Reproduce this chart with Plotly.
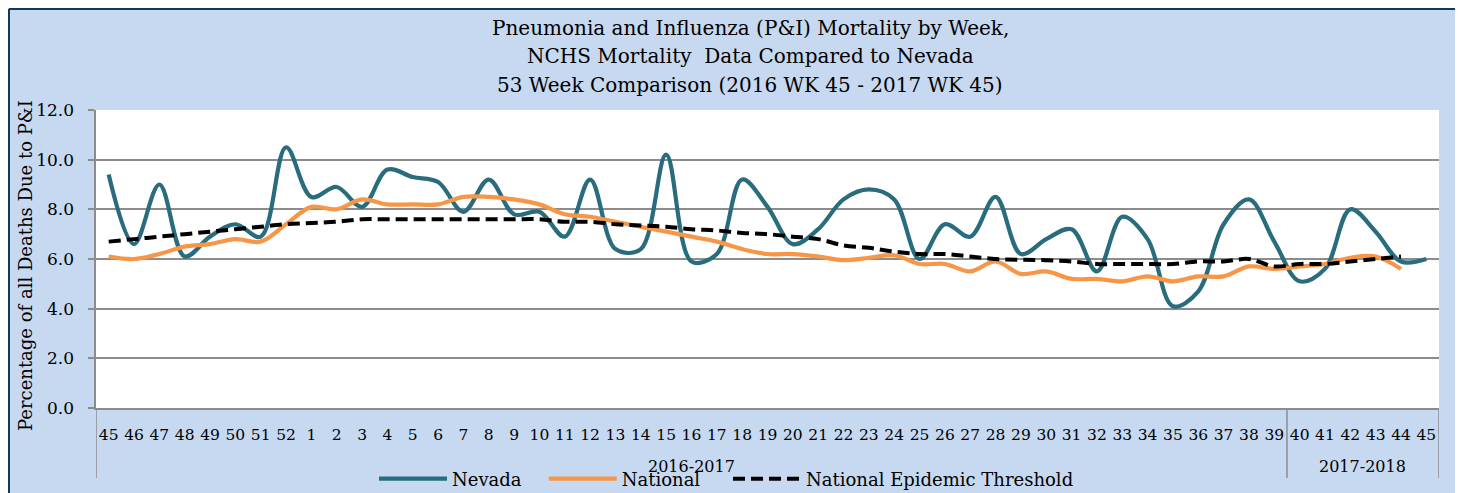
import plotly.graph_objects as go

# ---------------- data ----------------
weeks = ["45", "46", "47", "48", "49", "50", "51", "52",
         "1", "2", "3", "4", "5", "6", "7", "8", "9", "10",
         "11", "12", "13", "14", "15", "16", "17", "18", "19", "20",
         "21", "22", "23", "24", "25", "26", "27", "28", "29", "30",
         "31", "32", "33", "34", "35", "36", "37", "38", "39",
         "40", "41", "42", "43", "44", "45"]
seasons = ["2016-2017"] * 47 + ["2017-2018"] * 6

nevada = [9.4, 6.6, 9.0, 6.1, 6.9, 7.4, 6.9, 10.5,
          8.5, 8.9, 8.1, 9.6, 9.3, 9.1, 7.9, 9.2, 7.8, 7.9,
          6.9, 9.2, 6.4, 6.4, 10.2, 5.9, 6.2, 9.2, 8.1, 6.6,
          7.2, 8.4, 8.8, 8.4, 6.0, 7.4, 6.9, 8.5, 6.2, 6.8,
          7.2, 5.5, 7.7, 6.8, 4.1, 4.7, 7.4, 8.4, 6.7,
          5.1, 5.6, 8.0, 7.1, 5.9, 6.0]

national = [6.1, 6.0, 6.2, 6.5, 6.6, 6.8, 6.7, 7.4,
            8.1, 8.0, 8.4, 8.2, 8.2, 8.2, 8.5, 8.5, 8.4, 8.2,
            7.8, 7.7, 7.5, 7.3, 7.1, 6.9, 6.7, 6.4, 6.2, 6.2,
            6.1, 5.95, 6.05, 6.15, 5.8, 5.8, 5.5, 5.9, 5.4, 5.5,
            5.2, 5.2, 5.1, 5.3, 5.1, 5.3, 5.3, 5.7, 5.6,
            5.7, 5.8, 6.05, 6.1, 5.6, None]

threshold = [6.7, 6.8, 6.9, 7.0, 7.1, 7.2, 7.3, 7.4,
             7.45, 7.5, 7.6, 7.6, 7.6, 7.6, 7.6, 7.6, 7.6, 7.6,
             7.5, 7.5, 7.4, 7.35, 7.3, 7.2, 7.15, 7.05, 7.0, 6.9,
             6.8, 6.55, 6.45, 6.3, 6.2, 6.2, 6.1, 6.0, 5.97, 5.95,
             5.9, 5.8, 5.8, 5.8, 5.8, 5.9, 5.9, 6.0, 5.7,
             5.8, 5.8, 5.9, 6.0, 6.1, None]

series_names = ["Nevada", "National", "National Epidemic Threshold"]

title_lines = ["Pneumonia and Influenza (P&I) Mortality by Week,",
               "NCHS Mortality  Data Compared to Nevada",
               "53 Week Comparison (2016 WK 45 - 2017 WK 45)"]
y_title = "Percentage of all Deaths Due to P&I"

# ---------------- layout geometry ----------------
OFF = 8                      # page body margin in the browser
W, H = 1463 - OFF, 493 - OFF
L, T = 96 - OFF, 110 - OFF
R, B = W - (1439 - OFF), H - (408 - OFF)
PW, PH = W - L - R, H - T - B

def fx(px):  # page pixel x -> paper
    return (px - OFF - L) / PW

def fy(py):  # page pixel y -> paper
    return (H - B - (py - OFF)) / PH

FONT = "DejaVu Serif"
BG = "#C6D9F1"
GRID = "#8C8C8C"
NAVY = "#17365D"
NB = "\u00a0"

idx = list(range(len(weeks)))  # category positions on the axis

fig = go.Figure()
fig.add_trace(go.Scatter(x=idx, y=nevada, name=series_names[0] + NB * 3, mode="lines",
                         line=dict(color="#286C7E", width=4.2, shape="spline")))
fig.add_trace(go.Scatter(x=idx, y=national, name=series_names[1] + NB * 4, mode="lines",
                         line=dict(color="#F79646", width=4.2, shape="spline")))
fig.add_trace(go.Scatter(x=idx, y=threshold, name=series_names[2], mode="lines",
                         line=dict(color="black", width=4, dash="12px,6px", shape="spline")))

shapes = []
# white strip on the right + frame
shapes.append(dict(type="rect", xref="paper", yref="paper", x0=fx(1460), x1=fx(1470),
                   y0=fy(0), y1=fy(500), fillcolor="white", line=dict(width=0), layer="above"))
for (x0, y0, x1, y1) in [(9, 9, 9, 500), (9, 9, 1459, 9), (1459, 9, 1459, 500)]:
    shapes.append(dict(type="line", xref="paper", yref="paper", x0=fx(x0), x1=fx(x1),
                       y0=fy(y0), y1=fy(y1), line=dict(color=NAVY, width=2), layer="above"))

# season group dividers and labels (from the seasons list)
annotations = []
groups = []
for i, s in enumerate(seasons):
    if not groups or groups[-1][0] != s:
        groups.append([s, i, i])
    else:
        groups[-1][2] = i
bounds = [groups[0][1] - 0.5] + [g[2] + 0.5 for g in groups]
for b in bounds:
    shapes.append(dict(type="line", xref="x", yref="paper", x0=b, x1=b, y0=0, y1=fy(478),
                       line=dict(color=GRID, width=1.5), layer="above"))
for s, i0, i1 in groups:
    annotations.append(dict(text=s, xref="x", yref="paper", x=(i0 + i1) / 2, y=fy(467),
                            xanchor="center", yanchor="middle", showarrow=False,
                            font=dict(family=FONT, size=16, color="black")))

for txt, py in zip(title_lines, [28, 56.5, 85]):
    annotations.append(dict(text=txt, xref="paper", yref="paper", x=fx(750), y=fy(py),
                            xanchor="center", yanchor="middle", showarrow=False,
                            font=dict(family=FONT, size=20, color="black")))
annotations.append(dict(text=y_title, xref="paper", yref="paper", x=fx(25), y=fy(266),
                        xanchor="center", yanchor="middle", textangle=-90, showarrow=False,
                        font=dict(family=FONT, size=18, color="black")))

fig.update_layout(
    width=W, height=H,
    margin=dict(l=L, r=R, t=T, b=B, pad=0, autoexpand=False),
    paper_bgcolor=BG, plot_bgcolor="white",
    showlegend=True,
    legend=dict(orientation="h", x=fx(374), xanchor="left", y=fy(479), yanchor="middle",
                font=dict(family=FONT, size=18, color="black"), bgcolor="rgba(0,0,0,0)",
                itemwidth=68, tracegroupgap=0),
    xaxis=dict(range=[-0.5, len(weeks) - 0.5], tickmode="array", tickvals=idx, ticktext=weeks,
               tickangle=0, showgrid=False, ticks="", showline=True, automargin=False,
               linecolor=GRID, linewidth=1.5, zeroline=False,
               tickfont=dict(family=FONT, size=15.5, color="black"),
               ticklabelstandoff=12),
    yaxis=dict(range=[0, 12], dtick=2, tickformat=".1f", showgrid=True, gridcolor=GRID,
               gridwidth=1.5, zeroline=False, showline=True, linecolor=GRID, linewidth=1.5,
               ticks="outside", ticklen=6, tickcolor=GRID, tickwidth=1.5, automargin=False,
               ticksuffix=NB * 2,
               tickfont=dict(family=FONT, size=17, color="black")),
    shapes=shapes,
    annotations=annotations,
)

fig.write_html("out.html")
